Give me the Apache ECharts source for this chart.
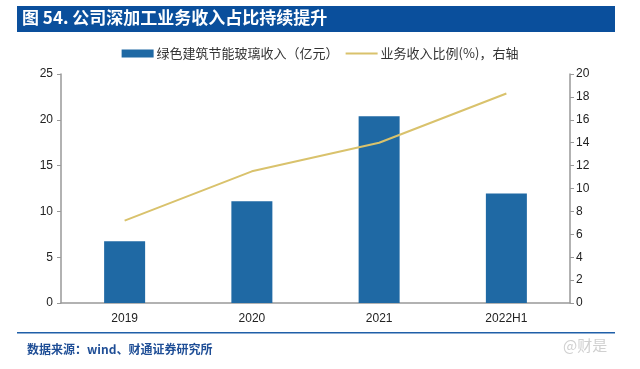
<!DOCTYPE html>
<html><head><meta charset="utf-8">
<script src="https://cdn.jsdelivr.net/npm/echarts@6/dist/echarts.min.js"></script>
<style>html,body{margin:0;padding:0;background:#fff;}#c{width:640px;height:369px;}</style>
</head><body><div id="c"></div>
<script>
var categories = ['2019', '2020', '2021', '2022H1'];
var glassRevenue = [6.75, 11.1, 20.4, 11.95];
var revenueShare = [7.2, 11.5, 14.0, 18.3];
var leftTicks = [0, 5, 10, 15, 20, 25];
var rightTicks = [0, 2, 4, 6, 8, 10, 12, 14, 16, 18, 20];

var chart = echarts.init(document.getElementById('c'), null, {renderer: 'canvas'});
var axisFont = {fontFamily: 'Liberation Sans, Arial, sans-serif', fontSize: 12, color: '#222'};
chart.setOption({
  animation: false,
  graphic: [
    {type: 'rect', shape: {x: 17, y: 6, width: 598, height: 26}, style: {fill: '#0a4f9c'}},
    {type: 'text', left: 22, top: 9, style: {text: '图 54. 公司深加工业务收入占比持续提升', fill: '#fff', font: 'bold 17px "Noto Sans CJK SC", sans-serif'}},
    {type: 'rect', shape: {x: 17, y: 332, width: 598, height: 1.5}, style: {fill: '#1f5fa8'}},
    {type: 'text', left: 27, top: 343, style: {text: '数据来源：wind、财通证券研究所', fill: '#1f4e96', font: 'bold 12px "Noto Sans CJK SC", sans-serif'}},
    {type: 'text', left: 563, top: 338, style: {text: '@财是', fill: '#d0d0d0', font: '15px "Noto Sans CJK SC", sans-serif'}}
  ],
  legend: {
    top: 42, left: 'center',
    itemGap: 6,
    textStyle: {fontFamily: '"Noto Sans CJK SC", sans-serif', fontSize: 13, color: '#333', padding: [0, 0, 0, -2]},
    data: [
      {name: '绿色建筑节能玻璃收入（亿元）', icon: 'rect', itemStyle: {color: '#1f69a4'}},
      {name: '业务收入比例(%)，右轴', itemStyle: {opacity: 0}}
    ],
    itemWidth: 32, itemHeight: 8
  },
  grid: {left: 61, right: 70, top: 74, bottom: 66},
  xAxis: {
    type: 'category', data: categories,
    axisLine: {lineStyle: {color: '#999', width: 1.5}},
    axisTick: {show: false},
    axisLabel: Object.assign({margin: 10}, axisFont)
  },
  yAxis: [
    {type: 'value', min: 0, max: 25, interval: 5,
     axisLine: {show: true, lineStyle: {color: '#999', width: 1.5}},
     axisTick: {show: true, length: 4, lineStyle: {color: '#999'}},
     splitLine: {show: false},
     axisLabel: Object.assign({margin: 8}, axisFont)},
    {type: 'value', min: 0, max: 20, interval: 2, position: 'right',
     axisLine: {show: true, lineStyle: {color: '#999', width: 1.5}},
     axisTick: {show: true, length: 4, lineStyle: {color: '#999'}},
     splitLine: {show: false},
     axisLabel: Object.assign({margin: 6}, axisFont)}
  ],
  series: [
    {name: '绿色建筑节能玻璃收入（亿元）', type: 'bar', data: glassRevenue, barWidth: 41,
     itemStyle: {color: '#1f69a4'}},
    {name: '业务收入比例(%)，右轴', type: 'line', yAxisIndex: 1, data: revenueShare,
     symbol: 'none', lineStyle: {color: '#d9c26c', width: 2}, itemStyle: {color: '#d9c26c'}}
  ]
});
</script></body></html>
